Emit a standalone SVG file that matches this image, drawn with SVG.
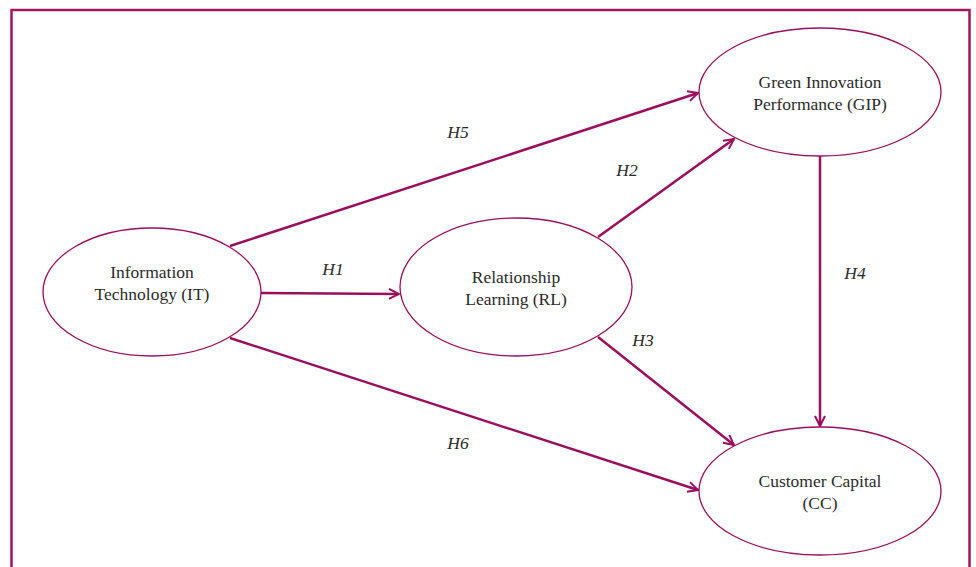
<svg xmlns="http://www.w3.org/2000/svg" width="976" height="567" viewBox="0 0 976 567">
<defs>
<marker id="arr" viewBox="0 0 12 12" refX="11" refY="6" markerWidth="12" markerHeight="12" markerUnits="userSpaceOnUse" orient="auto">
<path d="M1,1 L11,6 L1,11" fill="none" stroke="#9b0e5c" stroke-width="2"/>
</marker>
<style>
.frame{fill:none;stroke:#a3155f;stroke-width:2.5}
.node{fill:#fff;stroke:#9b0e5c;stroke-width:1.3}
.lbl{font-family:"Liberation Serif","Times New Roman",serif;font-size:17.5px;fill:#2b2b2b;text-anchor:middle}
.h{font-family:"Liberation Serif","Times New Roman",serif;font-size:17.5px;font-style:italic;fill:#2b2b2b;text-anchor:middle}
.e{fill:none;stroke:#9b0e5c;stroke-width:2.5;marker-end:url(#arr)}
</style>
</defs>
<rect x="0" y="0" width="976" height="567" fill="#fff"/>
<rect class="frame" x="11.5" y="10" width="958" height="570"/>
<g id="connectors">
<line class="e" x1="261" y1="293" x2="399" y2="294"/>
<line class="e" x1="230" y1="246" x2="698" y2="93"/>
<line class="e" x1="598" y1="237" x2="734" y2="139"/>
<line class="e" x1="598" y1="337" x2="734" y2="445"/>
<line class="e" x1="820" y1="156" x2="820" y2="426"/>
<line class="e" x1="230" y1="338" x2="698" y2="490"/>
<text class="h" x="333" y="275">H1</text>
<text class="h" x="458" y="138">H5</text>
<text class="h" x="627" y="176">H2</text>
<text class="h" x="643" y="346">H3</text>
<text class="h" x="855" y="279">H4</text>
<text class="h" x="458" y="449">H6</text>
</g>
<g id="IT">
<ellipse class="node" cx="152" cy="292" rx="109" ry="64"/>
<text class="lbl" x="152" y="278">Information</text>
<text class="lbl" x="152" y="300">Technology (IT)</text>
</g>
<g id="RL">
<ellipse class="node" cx="516" cy="287" rx="116" ry="69"/>
<text class="lbl" x="516" y="283">Relationship</text>
<text class="lbl" x="516" y="305">Learning (RL)</text>
</g>
<g id="GIP">
<ellipse class="node" cx="820" cy="92" rx="121" ry="64"/>
<text class="lbl" x="820" y="88">Green Innovation</text>
<text class="lbl" x="820" y="110">Performance (GIP)</text>
</g>
<g id="CC">
<ellipse class="node" cx="820" cy="491" rx="121" ry="64"/>
<text class="lbl" x="820" y="487">Customer Capital</text>
<text class="lbl" x="820" y="509">(CC)</text>
</g>
</svg>
